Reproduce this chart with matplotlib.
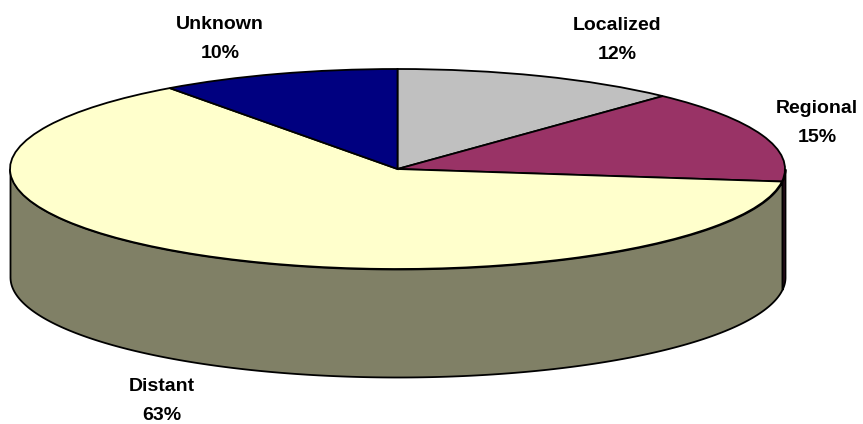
#!/usr/bin/env python3
import numpy as np
import matplotlib
matplotlib.use('Agg')
import matplotlib.pyplot as plt
from matplotlib.transforms import Affine2D

plt.rcParams['font.family'] = ['Liberation Sans', 'DejaVu Sans']

# clockwise from 12 o'clock
categories = ['Localized', 'Regional', 'Distant', 'Unknown']
values = [12, 15, 63, 10]
top_colors = ['#C0C0C0', '#993366', '#FFFFCC', '#000080']
wall_colors = ['#606060', '#3A1327', '#808066', '#000040']

W, H = 863, 424
CX, CY, RX, RY = 397.5, H - 169, 387.5, 100   # top ellipse, y up
DEPTH = 108
LW = 1.3
label_pos = [(617, 40), (817, 123), (162, 401), (220, 39)]  # label centres, px

fig = plt.figure(figsize=(W / 100, H / 100), dpi=100)
ax = fig.add_axes([0, 0, 1, 1])

# side wall: only the front half (90..270 deg clockwise from top) shows
edges = np.cumsum([0] + values) / sum(values) * 360
for i in range(len(values)):
    a0, a1 = max(edges[i], 90), min(edges[i + 1], 270)
    if a1 <= a0:
        continue
    t = np.radians(np.linspace(a0, a1, 200))
    x = CX + RX * np.sin(t)
    y = CY + RY * np.cos(t)
    ax.fill_between(x, y, y - DEPTH, facecolor=wall_colors[i], edgecolor='black',
                    linewidth=LW, zorder=1)

# top face: ordinary pie squashed into the ellipse
wedges, _ = ax.pie(values, colors=top_colors, startangle=90, counterclock=False,
                   wedgeprops=dict(edgecolor='black', linewidth=LW))
tr = Affine2D().scale(RX, RY).translate(CX, CY) + ax.transData
for w in wedges:
    w.set_transform(tr)
    w.set_zorder(2)

for name, v, (px, py) in zip(categories, values, label_pos):
    ax.text(px, H - py, f'{name}\n{v}%', ha='center', va='center', fontsize=14,
            fontweight='bold', color='black', linespacing=1.95)

ax.set_aspect('auto')
ax.set_xlim(0, W)
ax.set_ylim(0, H)
ax.axis('off')
fig.savefig('out.png', dpi=100, facecolor='white')
